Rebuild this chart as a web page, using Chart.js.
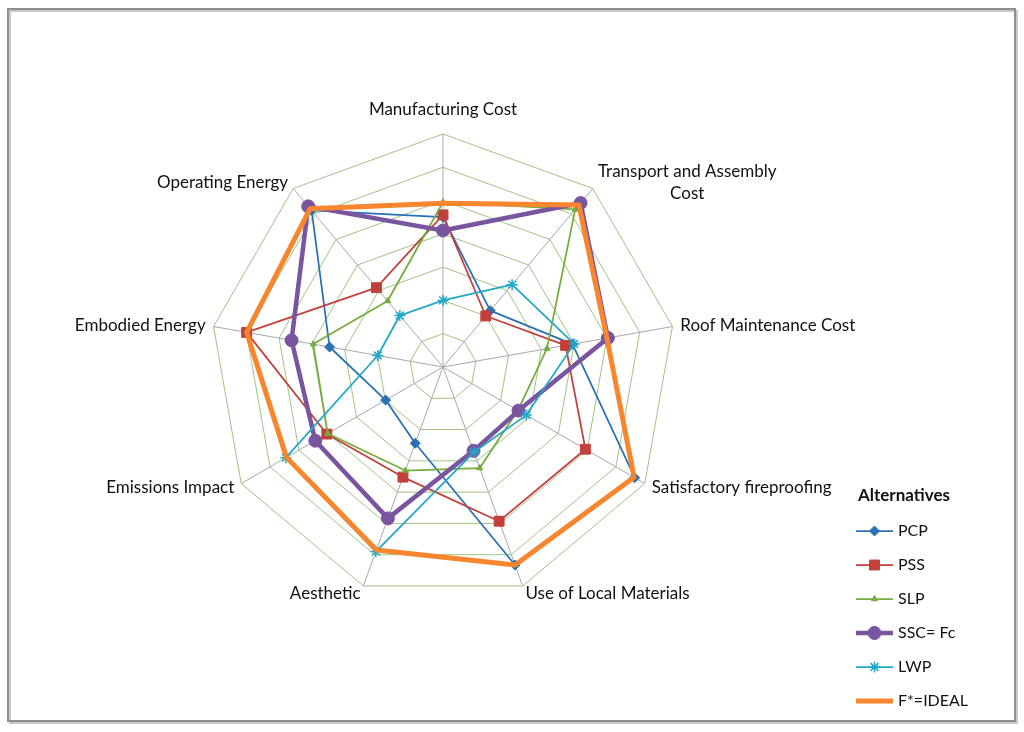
<!DOCTYPE html>
<html>
<head>
<meta charset="utf-8">
<title>Alternatives radar</title>
<script src="https://cdn.jsdelivr.net/npm/chart.js@4.4.1/dist/chart.umd.min.js"></script>
<style>
    html, body { margin: 0; padding: 0; background: #fff; }
    canvas { display: block; }
</style>
</head>
<body>
<canvas id="alternativesChart" width="1024" height="732"></canvas>
<script>
// criteria, clockwise from the top
const criteria = [
    'Manufacturing Cost',
    ['Transport and Assembly', 'Cost'],
    'Roof Maintenance Cost',
    'Satisfactory fireproofing',
    'Use of Local Materials',
    'Aesthetic',
    'Emissions Impact',
    'Embodied Energy',
    'Operating Energy'
];

// values (scale 0..7, one ring per unit)
const pcp   = [4.50, 2.21, 3.95, 6.65, 6.33, 2.44, 1.99, 3.46, 6.14];
const pss   = [4.57, 2.00, 3.74, 4.94, 4.93, 3.52, 4.03, 5.99, 3.11];
const slp   = [4.95, 6.18, 3.17, 2.60, 3.23, 3.31, 4.00, 3.96, 2.59];
const ssc   = [4.10, 6.43, 5.03, 2.62, 2.68, 4.84, 4.43, 4.62, 6.30];
const lwp   = [2.00, 3.23, 4.00, 2.89, 2.72, 5.90, 5.45, 1.99, 2.02];
const ideal = [4.92, 6.35, 5.00, 6.63, 6.33, 5.85, 5.43, 5.99, 6.21];

const scaleMin = 0;
const scaleMax = 7;
const legendTitle = 'Alternatives';

const FONT = 'Lato, "Open Sans", sans-serif';

const frame = {
    id: 'frame',
    beforeDraw(chart) {
        const ctx = chart.ctx;
        ctx.save();
        ctx.fillStyle = '#ffffff';
        ctx.fillRect(0, 0, chart.width, chart.height);
        // soft shadow on the right and bottom, like the source sheet
        ctx.strokeStyle = '#c8c8c8';
        ctx.lineWidth = 2;
        ctx.strokeRect(10, 11, 1007, 712);
        ctx.strokeStyle = '#8f8f8f';
        ctx.lineWidth = 2;
        ctx.strokeRect(8, 9, 1007, 712);
        ctx.restore();
    }
};

// axis names placed just outside the outer ring
const criteriaLabels = {
    id: 'criteriaLabels',
    afterDraw(chart) {
        const scale = chart.scales.r;
        const ctx = chart.ctx;
        ctx.save();
        ctx.font = '17px ' + FONT;
        ctx.fillStyle = '#111111';
        ctx.textBaseline = 'middle';
        ctx.textAlign = 'center';
        const lineHeight = 22;
        criteria.forEach((label, i) => {
            const lines = Array.isArray(label) ? label : [label];
            const angle = scale.getIndexAngle(i);
            const s = Math.sin(angle);
            const gap = Math.abs(s) < 0.1 ? 24 : 8;
            const pos = scale.getPointPosition(i, scale.drawingArea + gap);
            const width = Math.max(...lines.map(l => ctx.measureText(l).width));
            const left = s > 0.1 ? pos.x : (s < -0.1 ? pos.x - width : pos.x - width / 2);
            const top = pos.y - (lines.length - 1) * lineHeight / 2;
            lines.forEach((line, k) => ctx.fillText(line, left + width / 2, top + k * lineHeight));
        });
        ctx.restore();
    }
};

const sideLegend = {
    id: 'sideLegend',
    afterDraw(chart) {
        const ctx = chart.ctx;
        ctx.save();
        ctx.fillStyle = '#111111';
        ctx.textBaseline = 'middle';
        ctx.textAlign = 'left';
        ctx.font = 'bold 17px ' + FONT;
        ctx.fillText(legendTitle, 858, 496);
        ctx.font = '16px ' + FONT;

        const byLegend = chart.data.datasets.slice().sort((a, b) => b.order - a.order);
        byLegend.forEach((ds, i) => {
            const y = 531 + i * 34;
            ctx.strokeStyle = ds.borderColor;
            ctx.lineWidth = ds.borderWidth;
            ctx.lineCap = 'butt';
            ctx.beginPath();
            ctx.moveTo(856, y);
            ctx.lineTo(893, y);
            ctx.stroke();
            if (ds.pointRadius > 0 && Chart.helpers && Chart.helpers.drawPoint) {
                ctx.fillStyle = ds.backgroundColor;
                ctx.strokeStyle = ds.borderColor;
                ctx.lineWidth = ds.pointBorderWidth;
                Chart.helpers.drawPoint(ctx, {
                    pointStyle: ds.pointStyle,
                    radius: ds.pointRadius,
                    rotation: 0,
                    borderWidth: ds.pointBorderWidth
                }, 874.5, y);
            }
            ctx.fillStyle = '#111111';
            ctx.fillText(ds.label, 898, y);
        });
        ctx.restore();
    }
};

const ctx = document.getElementById('alternativesChart');

new Chart(ctx, {
    type: 'radar',
    data: {
        labels: criteria,
        datasets: [
            {
                label: 'PCP', data: pcp, order: 5,
                borderColor: '#2C70B4', backgroundColor: '#2C70B4',
                borderWidth: 1.75, pointStyle: 'rectRot', pointRadius: 5, pointBorderWidth: 1
            },
            {
                label: 'PSS', data: pss, order: 4,
                borderColor: '#C2403C', backgroundColor: '#C2403C',
                borderWidth: 1.75, pointStyle: 'rect', pointRadius: 7, pointBorderWidth: 1
            },
            {
                label: 'SLP', data: slp, order: 3,
                borderColor: '#76AB3E', backgroundColor: '#76AB3E',
                borderWidth: 1.75, pointStyle: 'triangle', pointRadius: 3.5, pointBorderWidth: 1
            },
            {
                label: 'SSC= Fc', data: ssc, order: 2,
                borderColor: '#7A559F', backgroundColor: '#7A559F',
                borderWidth: 4.5, pointStyle: 'circle', pointRadius: 6.5, pointBorderWidth: 1
            },
            {
                label: 'LWP', data: lwp, order: 1,
                borderColor: '#20A8C8', backgroundColor: '#20A8C8',
                borderWidth: 1.75, pointStyle: 'star', pointRadius: 5.5, pointBorderWidth: 1.5
            },
            {
                label: 'F*=IDEAL', data: ideal, order: 0,
                borderColor: '#F7862E', backgroundColor: '#F7862E',
                borderWidth: 5, pointStyle: 'circle', pointRadius: 0, pointBorderWidth: 0
            }
        ]
    },
    options: {
        responsive: false,
        animation: false,
        devicePixelRatio: 1,
        layout: {
            padding: { left: 210, top: 134, right: 348, bottom: 132 }
        },
        elements: {
            line: { tension: 0, fill: false, borderJoinStyle: 'round' },
            point: { hoverRadius: 0 }
        },
        scales: {
            r: {
                min: scaleMin,
                max: scaleMax,
                ticks: { display: false, stepSize: 1 },
                pointLabels: { display: false },
                grid: { color: '#A2C484', lineWidth: 1 },
                angleLines: { color: '#A8A8A8', lineWidth: 1 }
            }
        },
        plugins: {
            legend: { display: false },
            tooltip: { enabled: false }
        }
    },
    plugins: [frame, criteriaLabels, sideLegend]
});
</script>
</body>
</html>
